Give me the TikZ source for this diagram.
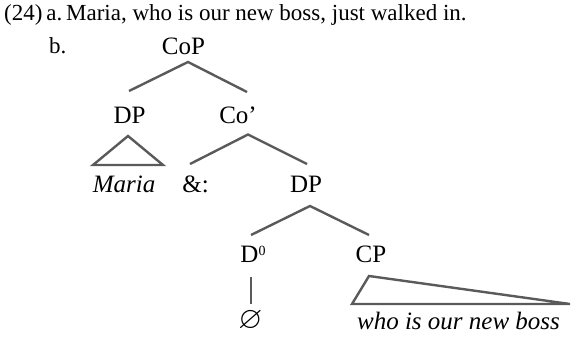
\documentclass[tikz,border=0pt]{standalone}
\usepackage{amssymb}
\usepackage{fontspec}
\setmainfont{Liberation Serif}
\usetikzlibrary{calc}
\definecolor{branchgray}{HTML}{5A5A5A}
\tikzset{
  lbl/.style={anchor=base, inner sep=0pt, font=\fontsize{25}{28}\selectfont},
  leaf/.style={lbl, font=\fontsize{25}{28}\selectfont\itshape},
  exline/.style={anchor=base west, inner sep=0pt, font=\fontsize{23}{26}\selectfont},
  branch/.style={draw=branchgray, line width=2.4pt, line join=miter},
}
\begin{document}
\begin{tikzpicture}[x=1pt, y=-1pt]
\useasboundingbox (0,0) rectangle (572,337);

% example heading
\node[exline] (ex) at (4,20.5) {(24)\,a.\,Maria, who is our new boss, just walked in.};
\node[exline] (exb) at (49,53.5) {b.};

% tree labels
\node[lbl] (cop) at (183.5,54) {CoP};
\node[lbl] (dp1) at (129.5,123) {DP};
\node[lbl] (co)  at (238,123) {Co’};
\node[leaf] (maria) at (124,192) {Maria};
\node[lbl] (amp) at (195.5,192) {\&:};
\node[lbl] (dp2) at (306,192) {DP};
\node[lbl] (d0)  at (253,262) {D\raisebox{7pt}{\fontsize{14}{16}\selectfont 0}};
\node[lbl] (cp)  at (371,262) {CP};
\node[lbl] (null) at (250.5,328) {\fontsize{31}{34}\selectfont$\varnothing$};
\node[leaf] (who) at (458.5,329) {who is our new boss};

% branches
\draw[branch] ($(dp1.base)+(-0.5,-32)$) -- ($(cop.base)+(4.5,8)$) -- ($(co.base)+(9,-31)$);
\draw[branch] ($(amp.base)+(-5.5,-28)$) -- ($(co.base)+(10,11.5)$) -- ($(dp2.base)+(1,-28)$);
\draw[branch] ($(d0.base)+(-2,-27)$) -- ($(dp2.base)+(4,14)$) -- ($(cp.base)+(-2,-27)$);
\draw[branch] ($(d0.base)+(-2.3,15)$) -- ($(null.base)+(0.2,-24)$);

% roofs over unanalysed constituents
\draw[branch] ($(dp1.base)+(-1.5,13)$) -- ($(maria.base)+(-31,-27)$) -- ($(maria.base)+(39,-27)$) -- cycle;
\draw[branch] ($(cp.base)+(-2,14)$) -- ($(who.base)+(-106.5,-25)$) -- ($(who.base)+(111.5,-25)$) -- cycle;
\end{tikzpicture}
\end{document}
